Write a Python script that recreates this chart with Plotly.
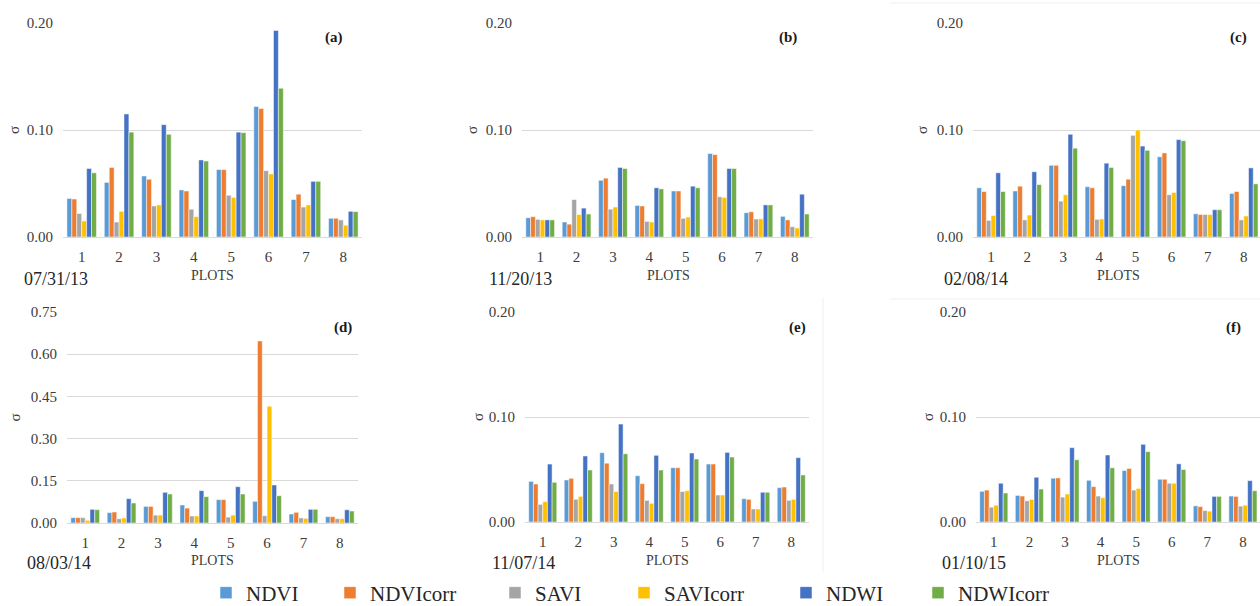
import plotly.graph_objects as go

# ---- data -------------------------------------------------------------
PLOTS = ["1", "2", "3", "4", "5", "6", "7", "8"]
SERIES = ["NDVI", "NDVIcorr", "SAVI", "SAVIcorr", "NDWI", "NDWIcorr"]
COLORS = ["#5B9BD5", "#ED7D31", "#A5A5A5", "#FFC000", "#4472C4", "#70AD47"]

# (a) 07/31/13
sigma_a = {
    "NDVI":     [0.036, 0.051, 0.057, 0.044, 0.063, 0.122, 0.035, 0.0175],
    "NDVIcorr": [0.0355, 0.065, 0.054, 0.043, 0.063, 0.120, 0.040, 0.0175],
    "SAVI":     [0.022, 0.014, 0.029, 0.026, 0.039, 0.062, 0.028, 0.016],
    "SAVIcorr": [0.015, 0.024, 0.030, 0.019, 0.037, 0.059, 0.030, 0.011],
    "NDWI":     [0.064, 0.115, 0.105, 0.072, 0.098, 0.193, 0.052, 0.024],
    "NDWIcorr": [0.060, 0.098, 0.096, 0.071, 0.0975, 0.139, 0.052, 0.0237],
}
# (b) 11/20/13
sigma_b = {
    "NDVI":     [0.018, 0.014, 0.053, 0.0295, 0.043, 0.078, 0.0227, 0.0193],
    "NDVIcorr": [0.019, 0.012, 0.055, 0.029, 0.043, 0.077, 0.0236, 0.016],
    "SAVI":     [0.0165, 0.035, 0.026, 0.0146, 0.0174, 0.0376, 0.0168, 0.0096],
    "SAVIcorr": [0.016, 0.021, 0.028, 0.014, 0.0186, 0.037, 0.017, 0.0084],
    "NDWI":     [0.016, 0.027, 0.065, 0.046, 0.0475, 0.064, 0.030, 0.040],
    "NDWIcorr": [0.016, 0.0215, 0.064, 0.045, 0.046, 0.064, 0.030, 0.0215],
}
# (c) 02/08/14
sigma_c = {
    "NDVI":     [0.046, 0.043, 0.067, 0.047, 0.048, 0.075, 0.0217, 0.0407],
    "NDVIcorr": [0.0425, 0.0475, 0.067, 0.046, 0.054, 0.0786, 0.021, 0.0425],
    "SAVI":     [0.0155, 0.016, 0.0335, 0.0165, 0.095, 0.0395, 0.021, 0.016],
    "SAVIcorr": [0.020, 0.0205, 0.0395, 0.0168, 0.100, 0.0416, 0.021, 0.0196],
    "NDWI":     [0.060, 0.061, 0.096, 0.069, 0.085, 0.091, 0.0255, 0.0646],
    "NDWIcorr": [0.0425, 0.049, 0.083, 0.065, 0.081, 0.090, 0.0255, 0.0497],
}
# (d) 08/03/14
sigma_d = {
    "NDVI":     [0.019, 0.037, 0.059, 0.064, 0.083, 0.077, 0.032, 0.0225],
    "NDVIcorr": [0.019, 0.039, 0.059, 0.053, 0.083, 0.647, 0.038, 0.0225],
    "SAVI":     [0.019, 0.015, 0.028, 0.025, 0.021, 0.026, 0.018, 0.0154],
    "SAVIcorr": [0.0095, 0.018, 0.028, 0.025, 0.028, 0.415, 0.0166, 0.0154],
    "NDWI":     [0.0486, 0.0865, 0.109, 0.115, 0.129, 0.135, 0.0486, 0.047],
    "NDWIcorr": [0.0474, 0.071, 0.103, 0.0936, 0.103, 0.097, 0.0486, 0.0427],
}
# (e) 11/07/14
sigma_e = {
    "NDVI":     [0.0387, 0.040, 0.066, 0.0441, 0.0517, 0.0552, 0.0222, 0.0327],
    "NDVIcorr": [0.0362, 0.0416, 0.056, 0.0365, 0.0517, 0.0552, 0.0216, 0.0333],
    "SAVI":     [0.0168, 0.0216, 0.0362, 0.0206, 0.029, 0.0257, 0.0124, 0.0206],
    "SAVIcorr": [0.0194, 0.0244, 0.029, 0.0178, 0.0298, 0.0257, 0.0124, 0.0216],
    "NDWI":     [0.0552, 0.0629, 0.0933, 0.0635, 0.0657, 0.0663, 0.0283, 0.0613],
    "NDWIcorr": [0.0378, 0.0495, 0.065, 0.0495, 0.060, 0.0619, 0.0283, 0.0448],
}
# (f) 01/10/15
sigma_f = {
    "NDVI":     [0.0292, 0.0253, 0.0417, 0.0397, 0.049, 0.0407, 0.0154, 0.0247],
    "NDVIcorr": [0.0304, 0.0247, 0.042, 0.0337, 0.051, 0.0407, 0.0147, 0.0244],
    "SAVI":     [0.0141, 0.0202, 0.0237, 0.0247, 0.0304, 0.0369, 0.0109, 0.0151],
    "SAVIcorr": [0.016, 0.0215, 0.0266, 0.0231, 0.032, 0.0369, 0.0103, 0.016],
    "NDWI":     [0.0369, 0.0426, 0.0708, 0.0638, 0.074, 0.0554, 0.0244, 0.0394],
    "NDWIcorr": [0.0276, 0.0314, 0.0593, 0.0516, 0.067, 0.050, 0.0244, 0.0298],
}

PANEL_TAGS = ["(a)", "(b)", "(c)", "(d)", "(e)", "(f)"]
DATES = ["07/31/13", "11/20/13", "02/08/14", "08/03/14", "11/07/14", "01/10/15"]
Y_MAX = [0.20, 0.20, 0.20, 0.75, 0.20, 0.20]
Y_STEP = [0.10, 0.10, 0.10, 0.15, 0.10, 0.10]

# ---- layout geometry (pixels) -----------------------------------------
W, H = 1260, 606
# plot-area boxes: left, right, top, bottom, upper end of category range
BOXES = [
    (63, 362, 23, 237, 7.5),
    (522, 813, 23, 237, 7.5),
    (973, 1260, 23, 237, 7.45),
    (67, 358, 312, 523, 7.5),
    (525, 809, 312, 522, 7.5),
    (976, 1260, 312, 522, 7.48),
]
SIGMA_X = [14, 472, 922, 14, 478, 928]
DATE_X = [22, 487, 942, 25, 490, 940]
TAG_X = [334, 788, 1238, 343, 797, 1233]
PLOTS_X = [212, 668, 1118, 212, 667, 1118]

SERIF = "Liberation Serif"
TXT = "#3b3b3b"


def fx(px):
    return px / W


def fy(px):
    return 1 - px / H


fig = go.Figure()
panels = [sigma_a, sigma_b, sigma_c, sigma_d, sigma_e, sigma_f]
legend_ids = ["legend", "legend2", "legend3", "legend4", "legend5", "legend6"]

for p, data in enumerate(panels):
    ax = "" if p == 0 else str(p + 1)
    for s, name in enumerate(SERIES):
        fig.add_trace(go.Bar(
            x=PLOTS, y=data[name], name=name,
            marker=dict(color=COLORS[s], line=dict(color="white", width=0.5)),
            xaxis="x" + ax, yaxis="y" + ax,
            showlegend=(p == 0), legend=legend_ids[s],
            hovertemplate=name + " plot %{x}: %{y:.3f}<extra></extra>",
        ))

    left, right, top, bottom, xr = BOXES[p]
    fig.layout["xaxis" + ax] = dict(
        domain=[fx(left), fx(right)], anchor="y" + ax,
        type="category", range=[-0.5, xr], automargin=False,
        showgrid=False, showline=True, linecolor="#D9D9D9", linewidth=1,
        ticks="", ticklabelstandoff=6,
        tickfont=dict(family=SERIF, size=15, color=TXT),
    )
    fig.layout["yaxis" + ax] = dict(
        domain=[fy(bottom), fy(top)], anchor="x" + ax, automargin=False,
        range=[0, Y_MAX[p]], dtick=Y_STEP[p], tick0=0, tickformat=".2f",
        showgrid=True, gridcolor="#D9D9D9", gridwidth=1, zeroline=False,
        ticks="", ticklabelstandoff=9,
        tickfont=dict(family=SERIF, size=15, color=TXT),
    )

    mid_y = (top + bottom) / 2
    label_row = 279 if p < 3 else 563
    plots_row = 275 if p < 3 else 560
    tag_row = 38 if p < 3 else 327
    common = dict(xref="paper", yref="paper", showarrow=False, yanchor="middle")
    fig.add_annotation(x=fx(SIGMA_X[p]), y=fy(mid_y), xanchor="center",
                       text="σ", textangle=-90,
                       font=dict(family=SERIF, size=15, color=TXT), **common)
    fig.add_annotation(x=fx(DATE_X[p]), y=fy(label_row), xanchor="left",
                       text=DATES[p],
                       font=dict(family=SERIF, size=18, color="#262626"), **common)
    fig.add_annotation(x=fx(PLOTS_X[p]), y=fy(plots_row), xanchor="center",
                       text="PLOTS",
                       font=dict(family=SERIF, size=14, color=TXT), **common)
    fig.add_annotation(x=fx(TAG_X[p]), y=fy(tag_row), xanchor="center",
                       text="<b>" + PANEL_TAGS[p] + "</b>",
                       font=dict(family=SERIF, size=15, color="#1a1a1a"), **common)

# faint chart-frame edges around the right-hand charts
FRAME = "#EFEFEF"
fig.add_shape(type="line", xref="paper", yref="paper",
              x0=fx(823), x1=fx(823), y0=fy(298), y1=fy(572),
              line=dict(color=FRAME, width=1))
for yy in (3, 299):
    fig.add_shape(type="line", xref="paper", yref="paper",
                  x0=fx(890), x1=1, y0=fy(yy), y1=fy(yy),
                  line=dict(color=FRAME, width=1))

# one legend box per series so each entry sits at its own spot along the bottom
LEGEND_TEXT_X = [244, 368, 533, 662, 824, 956]
legend_layout = {}
for s, lid in enumerate(legend_ids):
    legend_layout[lid] = dict(
        x=fx(LEGEND_TEXT_X[s] - 38), y=fy(593), xanchor="left", yanchor="middle",
        xref="container", yref="container",
        orientation="h", bgcolor="rgba(0,0,0,0)", borderwidth=0,
        font=dict(family=SERIF, size=21, color="#262626"),
        itemclick=False, itemdoubleclick=False,
    )

fig.update_layout(
    width=W, height=H,
    margin=dict(l=0, r=0, t=0, b=0, autoexpand=False),
    paper_bgcolor="white", plot_bgcolor="white",
    barmode="group", bargap=0.21, bargroupgap=0.0,
    **legend_layout,
)

fig.write_html("out.html")
